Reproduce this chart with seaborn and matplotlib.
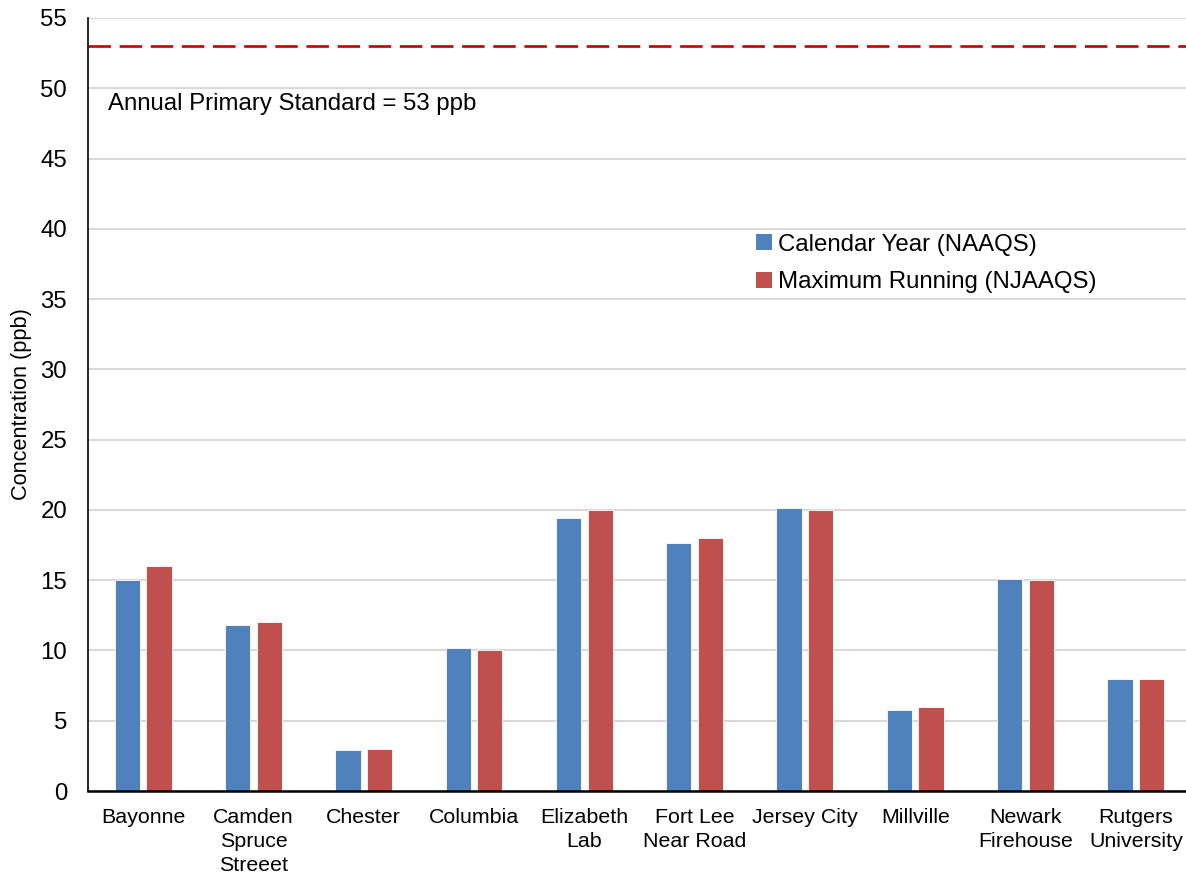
import matplotlib
matplotlib.use("Agg")
import matplotlib.pyplot as plt
from matplotlib.patches import Patch
import seaborn as sns
import pandas as pd

sites = ["Bayonne", "Camden\nSpruce\nStreeet", "Chester", "Columbia", "Elizabeth\nLab",
         "Fort Lee\nNear Road", "Jersey City", "Millville", "Newark\nFirehouse", "Rutgers\nUniversity"]
calendar_year = [15.0, 11.8, 2.9, 10.2, 19.4, 17.65, 20.15, 5.8, 15.1, 8.0]
max_running = [16.0, 12.0, 3.0, 10.0, 20.0, 18.0, 20.0, 6.0, 15.0, 8.0]
series_names = ["Calendar Year (NAAQS)", "Maximum Running (NJAAQS)"]
standard = 53
y_ticks = list(range(0, 56, 5))

df = pd.DataFrame({
    "site": sites * 2,
    "value": calendar_year + max_running,
    "series": [series_names[0]] * len(sites) + [series_names[1]] * len(sites),
})

sns.set_theme(style="white")
plt.rcParams["font.family"] = ["Liberation Sans", "DejaVu Sans"]
plt.rcParams["text.color"] = "black"
plt.rcParams["axes.labelcolor"] = "black"

colors = ["#4F81BD", "#C0504D"]
fig = plt.figure(figsize=(11.86, 8.76), dpi=100)
ax = fig.add_axes([0.0742, 0.097, 0.93, 0.8825])

sns.barplot(data=df, x="site", y="value", hue="series", palette=colors,
            width=0.573, gap=0.2, ax=ax, legend=False, saturation=1,
            edgecolor="#FFFFFF", linewidth=0.6)

ax.set_ylim(0, 55)
ax.set_xlim(-0.5, len(sites) - 0.5)
ax.set_yticks(y_ticks)
ax.yaxis.grid(True, color="#D9D9D9", linewidth=1.5)
ax.set_axisbelow(True)
ax.tick_params(axis="both", length=0, colors="black")
ax.tick_params(axis="x", pad=12, labelsize=15.4)
ax.tick_params(axis="y", pad=15, labelsize=17.3)
for lbl in ax.get_xticklabels():
    lbl.set_linespacing(1.35)

for s in ["top", "right"]:
    ax.spines[s].set_visible(False)
ax.spines["left"].set_color("black")
ax.spines["left"].set_linewidth(1.2)
ax.spines["bottom"].set_color("black")
ax.spines["bottom"].set_linewidth(1.8)

ax.set_xlabel("")
ax.set_ylabel("Concentration (ppb)", fontsize=15.7, labelpad=6)

ax.axhline(standard, color="#C00000", linewidth=1.9, dashes=(8.5, 3.3))
ax.text(0.018, 48.9, f"Annual Primary Standard = {standard} ppb", transform=ax.get_yaxis_transform(),
        fontsize=17.3, va="center", ha="left")

handles = [Patch(facecolor=c, edgecolor="none") for c in colors]
ax.legend(handles, series_names, loc="upper left", bbox_to_anchor=(0.586, 0.749),
          frameon=False, fontsize=17.3, handlelength=0.65, handleheight=0.65,
          handletextpad=0.25, labelspacing=0.65)

fig.savefig("out.png", dpi=100)
